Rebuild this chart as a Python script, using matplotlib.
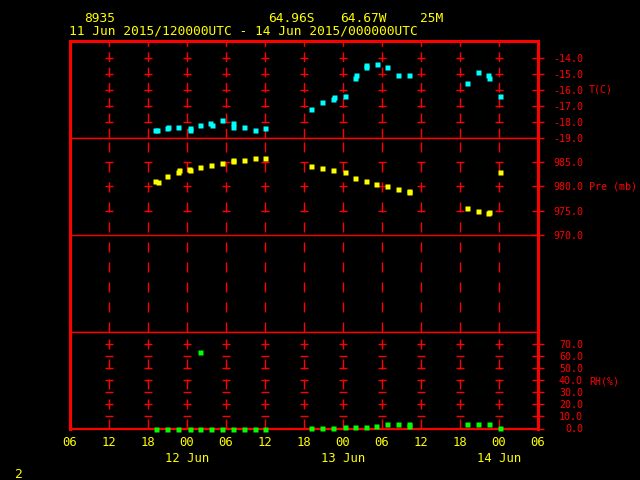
import numpy as np
import matplotlib.pyplot as plt

plt.rcParams['font.family'] = ['DejaVu Sans Mono']

# hours after 11 Jun 2015 00 UTC
t_temp = [19.1, 19.4, 20.9, 21.0, 22.6, 24.4, 24.5, 26.0, 27.6, 27.8, 29.4, 31.0, 31.1,
          32.8, 34.5, 36.0, 43.1, 44.8, 46.4, 46.6, 48.3, 49.8, 50.0, 51.5, 51.6, 53.2,
          54.8, 56.5, 58.1, 67.0, 68.7, 70.3, 70.5, 72.1]
temp = [-18.5, -18.5, -18.4, -18.3, -18.3, -18.5, -18.4, -18.2, -18.05, -18.2, -17.9, -18.05,
        -18.3, -18.3, -18.5, -18.4, -17.2, -16.75, -16.55, -16.45, -16.4, -15.25, -15.1,
        -14.55, -14.45, -14.4, -14.6, -15.05, -15.05, -15.55, -14.9, -15.05, -15.25, -16.4]

t_pres = [19.1, 19.5, 20.9, 22.6, 22.7, 24.3, 24.5, 26.0, 27.7, 29.4, 31.0, 31.1, 32.8, 34.5,
          36.0, 43.1, 44.8, 46.5, 48.3, 49.9, 51.5, 53.1, 54.8, 56.5, 58.1, 58.2, 67.0, 68.7,
          70.3, 70.5, 72.1]
pres = [981.2, 980.9, 982.2, 983.05, 983.3, 983.7, 983.5, 984.1, 984.5, 984.9, 985.3, 985.5,
        985.5, 985.9, 985.9, 984.3, 983.9, 983.3, 983.05, 981.8, 981.2, 980.6, 980.2, 979.5,
        979.1, 978.9, 975.6, 975.0, 974.6, 974.8, 983.05]

t_rh = [19.2, 20.9, 22.6, 24.4, 26.0, 26.0, 27.7, 29.4, 31.0, 32.8, 34.5, 36.0,
        43.1, 44.8, 46.5, 48.3, 49.9, 51.5, 53.1, 54.8, 56.5, 58.1, 58.2,
        67.0, 68.7, 70.4, 72.1]
rh = [0, 0, 0, 0, 0, 64, 0, 0, 0, 0, 0, 0,
      0.7, 0.7, 0.7, 1.5, 1.5, 1.5, 2.3, 4.0, 4.0, 2.3, 4.0,
      4.0, 4.0, 4.0, 0.7]

hour_ticks = list(range(6, 79, 6))
hour_labels = ['%02d' % (h % 24) for h in hour_ticks]
day_pos = [24, 48, 72]
day_labels = ['12 Jun', '13 Jun', '14 Jun']

RED = '#ff0000'
YEL = '#ffff00'

fig = plt.figure(figsize=(6.4, 4.8), dpi=100, facecolor='black')
L, W = 70 / 640, 468 / 640


def px_axes(top, bot):
    return fig.add_axes([L, 1 - bot / 480, W, (bot - top) / 480], facecolor='black')


ax_t = px_axes(41, 138)
ax_p = px_axes(138, 332)
ax_r = px_axes(332, 428.5)

grid_x = list(range(12, 73, 6))
panels = [
    (ax_t, (-19, -12.95), [-19, -18, -17, -16, -15, -14], [-18, -17, -16, -15, -14], (0, (7, 4))),
    (ax_p, (950, 990), [970, 975, 980, 985], [975, 980, 985], (0, (7.2, 7.2))),
    (ax_r, (0, 80.4), list(range(0, 80, 10)), list(range(10, 80, 10)), (0, (7.2, 7.2))),
]
for ax, ylim, yt, cross, ls in panels:
    ax.set_xlim(6, 78)
    ax.set_ylim(*ylim)
    for s in ax.spines.values():
        s.set_color(RED)
        s.set_linewidth(1)
    ax.spines['left'].set_linewidth(2.2)
    ax.spines['right'].set_linewidth(2.2)
    for x in grid_x:
        ax.axvline(x, color=RED, lw=1, ls=ls, zorder=1)
    gx, gy = np.meshgrid(grid_x, cross)
    ax.plot(gx.ravel(), gy.ravel(), ls='none', marker='_', ms=5.5, mew=1, color=RED, zorder=1)
    ax.yaxis.tick_right()
    ax.set_yticks(yt, labels=['%.1f' % v for v in yt])
    ax.tick_params(axis='y', direction='inout', length=8, width=1, color=RED,
                   labelcolor=RED, labelsize=7.2, pad=28.4)
    for lab in ax.get_yticklabels():
        lab.set_horizontalalignment('right')
    ax.set_xticks(hour_ticks)
    ax.tick_params(axis='x', length=0)

ax_t.spines['top'].set_linewidth(2.2)
ax_r.spines['bottom'].set_linewidth(1.6)
ax_t.tick_params(axis='x', labelbottom=False)
ax_p.tick_params(axis='x', labelbottom=False)
ax_p.axhline(970, color=RED, lw=1, zorder=1)

ax_r.set_xticks(hour_ticks, labels=hour_labels)
ax_r.tick_params(axis='x', labelcolor=YEL, labelsize=8.8, pad=5.5)
for x, lab in zip(day_pos, day_labels):
    ax_r.text(x, -0.31, lab, transform=ax_r.get_xaxis_transform(), color=YEL,
              fontsize=8.8, ha='center', va='center')

mk = dict(ls='none', marker='s', ms=3.6, mec='none', clip_on=False, zorder=3)
ax_t.plot(t_temp, temp, color='#00ffff', **mk)
ax_p.plot(t_pres, pres, color=YEL, **mk)
ax_r.plot(t_rh, rh, color='#00ff00', **mk)

fig.text(589 / 640, 1 - 90 / 480, 'T(C)', color=RED, fontsize=7.2, va='center')
fig.text(589 / 640, 1 - 186.5 / 480, 'Pre (mb)', color=RED, fontsize=7.2, va='center')
fig.text(589 / 640, 1 - 381 / 480, 'RH(%)', color=RED, fontsize=7.2, va='center')

fig.text(84 / 640, 1 - 18 / 480, '8935', color=YEL, fontsize=9.3, va='center')
fig.text(268 / 640, 1 - 18 / 480, '64.96S', color=YEL, fontsize=9.3, va='center')
fig.text(340 / 640, 1 - 18 / 480, '64.67W', color=YEL, fontsize=9.3, va='center')
fig.text(420 / 640, 1 - 18 / 480, '25M', color=YEL, fontsize=9.3, va='center')
fig.text(69 / 640, 1 - 31 / 480, '11 Jun 2015/120000UTC - 14 Jun 2015/000000UTC',
         color=YEL, fontsize=9.3, va='center')
fig.text(19 / 640, 1 - 474 / 480, '2', color=YEL, fontsize=9.3, ha='center', va='center')

fig.savefig('out.png', dpi=100, facecolor='black')
